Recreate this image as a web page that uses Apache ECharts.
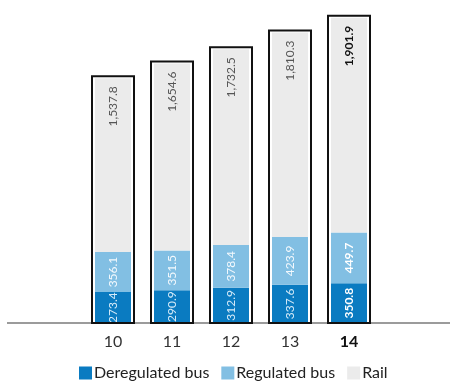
<!DOCTYPE html>
<html>
<head>
<meta charset="utf-8">
<script src="https://cdn.jsdelivr.net/npm/echarts@6/dist/echarts.min.js"></script>
<style>
  html, body { margin: 0; padding: 0; background: #fff; }
  #chart { width: 450px; height: 383px; }
</style>
</head>
<body>
<div id="chart"></div>
<script>
// Passenger journeys by mode, financial years 10-14
const categories = ['10', '11', '12', '13', '14'];
const deregulatedBus = [273.4, 290.9, 312.9, 337.6, 350.8];
const regulatedBus = [356.1, 351.5, 378.4, 423.9, 449.7];
const rail = [1537.8, 1654.6, 1732.5, 1810.3, 1901.9];

const FONT = 'Lato, "DejaVu Sans", sans-serif';
const lastIdx = categories.length - 1;
const totals = categories.map((_, i) => deregulatedBus[i] + regulatedBus[i] + rail[i]);

const fmt = v => v.toLocaleString('en-US', { minimumFractionDigits: 1, maximumFractionDigits: 1 });

// highlight the latest year with bold labels
function withHighlight(values, boldColor) {
  return values.map((v, i) => i === lastIdx
    ? { value: v, label: { fontWeight: 'bold', color: boldColor } }
    : v);
}

const chart = echarts.init(document.getElementById('chart'));

const baseLabel = {
  show: true,
  rotate: 90,
  fontFamily: FONT,
  fontSize: 12,
  formatter: p => fmt(p.value)
};

chart.setOption({
  animation: false,
  grid: { left: 83.5, right: 71.5, top: 5, bottom: 60 },
  xAxis: {
    type: 'category',
    data: categories,
    axisLine: { show: false },
    axisTick: { show: false },
    axisLabel: {
      margin: 11,
      fontFamily: FONT,
      fontSize: 16,
      color: '#333',
      formatter: (v, i) => i === lastIdx ? '{b|' + v + '}' : v,
      rich: { b: { fontFamily: FONT, fontSize: 16, fontWeight: 'bold', color: '#111' } }
    }
  },
  yAxis: { type: 'value', min: 0, max: 2815, show: false, splitLine: { show: false } },
  legend: {
    left: 74,
    top: 360,
    icon: 'rect',
    itemWidth: 13,
    itemHeight: 13,
    itemGap: 12,
    textStyle: { fontFamily: FONT, fontSize: 16, color: '#222', padding: [0, 0, 0, -3] },
    data: ['Deregulated bus', 'Regulated bus', 'Rail']
  },
  graphic: [{
    type: 'line',
    shape: { x1: 7, y1: 323, x2: 450, y2: 323 },
    style: { stroke: '#7a7a7a', lineWidth: 1.5 },
    z: 0
  }],
  series: [
    {
      name: 'Deregulated bus',
      type: 'bar',
      stack: 'total',
      barWidth: 36,
      itemStyle: { color: '#0a7bc1' },
      label: Object.assign({}, baseLabel, { position: 'inside', color: '#d6ebf8' }),
      data: withHighlight(deregulatedBus, '#ffffff')
    },
    {
      name: 'Regulated bus',
      type: 'bar',
      stack: 'total',
      itemStyle: { color: '#82bfe3' },
      label: Object.assign({}, baseLabel, { position: 'inside', color: '#f4f9fd' }),
      data: withHighlight(regulatedBus, '#ffffff')
    },
    {
      name: 'Rail',
      type: 'bar',
      stack: 'total',
      itemStyle: { color: '#ebebeb' },
      label: Object.assign({}, baseLabel, {
        position: 'insideTop',
        distance: 8,
        align: 'right',
        verticalAlign: 'middle',
        color: '#555'
      }),
      data: withHighlight(rail, '#111')
    },
    {
      // black frame around each year's full stack
      name: 'frame',
      type: 'custom',
      silent: true,
      z: 5,
      renderItem: (params, api) => {
        const top = api.coord([api.value(0), api.value(1)]);
        const base = api.coord([api.value(0), 0]);
        return {
          type: 'rect',
          shape: { x: top[0] - 21, y: top[1] - 2, width: 42, height: base[1] - top[1] + 2 },
          style: { fill: 'none', stroke: '#111', lineWidth: 2 }
        };
      },
      data: totals.map((t, i) => [i, t])
    }
  ]
});
</script>
</body>
</html>
